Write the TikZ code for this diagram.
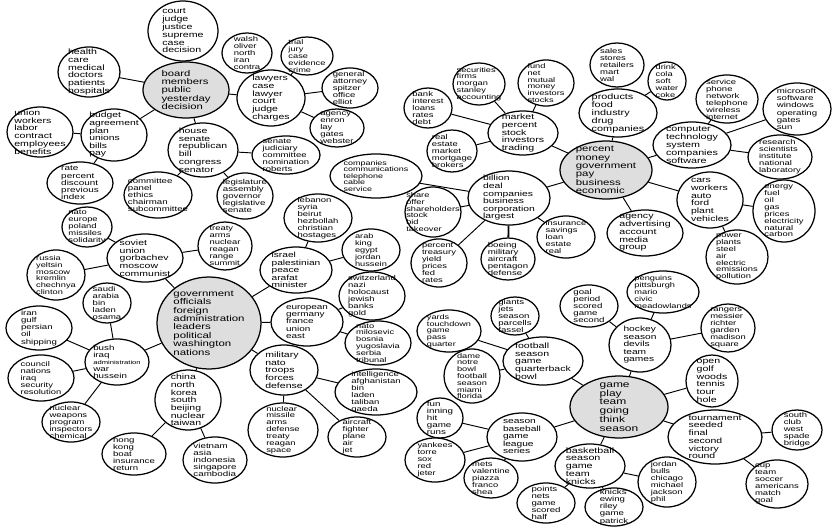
\documentclass[tikz,border=0pt]{standalone}
\usepackage{fontspec}
\newfontfamily\wf[FakeStretch=1.36]{Liberation Sans}
\usetikzlibrary{shapes.geometric}
\tikzset{
  bub/.style={ellipse,draw=black,line width=1.25pt,inner sep=0pt},
  txt/.style={align=left,inner sep=0pt,text=black},
  edge/.style={draw=black,line width=0.95pt},
  thick edge/.style={draw=black,line width=1.8pt}
}
\newcommand\Bub[8][white]{%
  \node[bub,fill=#1,minimum width={2*#5},minimum height={2*#6}] (#2) at (#3,#4) {};
  \node[txt,font=\wf\fontsize{#7}{#7}\selectfont] (#2-t) at (#2) {#8};}
\colorlet{hub}{black!13}
\begin{document}
\begin{tikzpicture}[x=1pt,y=-1pt]
\useasboundingbox[fill=white] (0,0) rectangle (832,527);
% ---- politics / law cluster
\Bub{court}{183}{31}{35}{30}{7.8}{court\\judge\\justice\\supreme\\case\\decision}
\Bub[hub]{board}{186}{90}{43}{28}{8.3}{board\\members\\public\\yesterday\\decision}
\Bub{health}{89}{72}{31}{25}{7.8}{health\\care\\medical\\doctors\\patients\\hospitals}
\Bub{union}{40}{132}{33}{25}{7.8}{union\\workers\\labor\\contract\\employees\\benefits}
\Bub{budget}{114}{135}{33}{26}{7.6}{budget\\agreement\\plan\\unions\\bills\\pay}
\Bub{house}{203}{150}{35}{27}{7.7}{house\\senate\\republican\\bill\\congress\\senator}
\Bub{rate}{80}{183}{33}{21}{7.3}{rate\\percent\\discount\\previous\\index}
\Bub{committee}{158}{195}{34}{23}{7.1}{committee\\panel\\ethics\\chairman\\subcommittee}
\Bub{legislature}{245}{196}{28}{23}{7.1}{legislature\\assembly\\governor\\legislative\\senate}
\Bub{senjud}{286}{155}{34}{19}{7}{senate\\judiciary\\committee\\nomination\\roberts}
\Bub{walsh}{247}{53}{25}{20}{7}{walsh\\oliver\\north\\iran\\contra}
\Bub{trial}{307}{56}{26}{19}{6.8}{trial\\jury\\case\\evidence\\crime}
\Bub{lawyers}{271}{98}{34}{28}{7.7}{lawyers\\case\\lawyer\\court\\judge\\charges}
\Bub{general}{350}{88}{28}{20}{7}{general\\attorney\\spitzer\\office\\elliot}
\Bub{agencyA}{337}{128}{27}{19}{7}{agency\\enron\\lay\\gates\\webster}
% ---- business cluster
\Bub{companies}{376}{176}{46}{22}{6.6}{companies\\communications\\telephone\\cable\\service}
\Bub{bank}{428}{108}{24}{20}{7}{bank\\interest\\loans\\rates\\debt}
\Bub{securities}{479}{84}{26}{21}{6.8}{securities\\firms\\morgan\\stanley\\accounting}
\Bub{fund}{546}{83}{28}{23}{6.8}{fund\\net\\mutual\\money\\investors\\stocks}
\Bub{market}{523}{133}{35}{22}{7.8}{market\\percent\\stock\\investors\\trading}
\Bub{realestate}{452}{151}{25}{21}{7}{real\\estate\\market\\mortgage\\brokers}
\Bub{sales}{617}{65}{27}{22}{7}{sales\\stores\\retailers\\mart\\wal}
\Bub{products}{618}{113}{39}{24}{8}{products\\food\\industry\\drug\\companies}
\Bub{drink}{667}{81}{19}{19}{6.8}{drink\\cola\\soft\\water\\coke}
\Bub{service}{727}{99}{31}{24}{7}{service\\phone\\network\\telephone\\wireless\\internet}
\Bub{microsoft}{797}{109}{34}{26}{7.1}{microsoft\\software\\windows\\operating\\gates\\sun}
\Bub{computer}{692}{145}{39}{23}{7.9}{computer\\technology\\system\\companies\\software}
\Bub{research}{780}{157}{32}{22}{6.9}{research\\scientists\\institute\\national\\laboratory}
\Bub[hub]{money}{606}{170}{46}{29}{8.4}{percent\\money\\government\\pay\\business\\economic}
\Bub{billion}{509}{198}{41}{27}{7.6}{billion\\deal\\companies\\business\\corporation\\largest}
\Bub{share}{433}{212}{28}{25}{6.8}{share\\offer\\shareholders\\stock\\bid\\takeover}
\Bub{insurance}{566}{237}{29}{21}{6.9}{insurance\\savings\\loan\\estate\\real}
\Bub{treasury}{439}{263}{28}{24}{6.9}{percent\\treasury\\yield\\prices\\fed\\rates}
\Bub{boeing}{508}{259}{27}{21}{7.1}{boeing\\military\\aircraft\\pentagon\\defense}
\Bub{agencyB}{645}{233}{38}{23}{7.8}{agency\\advertising\\account\\media\\group}
\Bub{cars}{710}{200}{33}{28}{7.7}{cars\\workers\\auto\\ford\\plant\\vehicles}
\Bub{energy}{784}{211}{31}{31}{6.9}{energy\\fuel\\oil\\gas\\prices\\electricity\\natural\\carbon}
\Bub{power}{737}{257}{31}{27}{6.9}{power\\plants\\steel\\air\\electric\\emissions\\pollution}
% ---- world cluster
\Bub{natoeu}{87}{227}{25}{20}{6.9}{nato\\europe\\poland\\missiles\\solidarity}
\Bub{soviet}{145}{258}{38}{24}{7.7}{soviet\\union\\gorbachev\\moscow\\communist}
\Bub{treaty}{225}{246}{27}{24}{6.9}{treaty\\arms\\nuclear\\reagan\\range\\summit}
\Bub{russia}{56}{275}{29}{25}{6.8}{russia\\yeltsin\\moscow\\kremlin\\chechnya\\clinton}
\Bub{lebanon}{318}{218}{34}{24}{7}{lebanon\\syria\\beirut\\hezbollah\\christian\\hostages}
\Bub{arab}{371}{250}{29}{21}{6.8}{arab\\king\\egypt\\jordan\\hussein}
\Bub{israel}{296}{270}{36}{23}{7.5}{israel\\palestinian\\peace\\arafat\\minister}
\Bub{swiss}{372}{296}{33}{24}{7}{switzerland\\nazi\\holocaust\\jewish\\banks\\gold}
\Bub[hub]{gov}{209}{323}{52}{46}{8.4}{government\\officials\\foreign\\administration\\leaders\\political\\washington\\nations}
\Bub{european}{307}{322}{36}{24}{7.3}{european\\germany\\france\\union\\east}
\Bub{natomil}{378}{343}{33}{22}{6.8}{nato\\milosevic\\bosnia\\yugoslavia\\serbia\\tribunal}
\Bub{saudi}{107}{303}{24}{20}{7}{saudi\\arabia\\bin\\laden\\osama}
\Bub{iran}{39}{328}{33}{22}{7.1}{iran\\gulf\\persian\\oil\\shipping}
\Bub{bush}{117}{362}{32}{23}{7.2}{bush\\iraq\\{\fontsize{5.6}{7.2}\selectfont administration}\\war\\hussein}
\Bub{council}{41}{378}{33}{23}{6.9}{council\\nations\\iraq\\security\\resolution}
\Bub{nucweap}{71}{422}{29}{20}{6.9}{nuclear\\weapons\\program\\inspectors\\chemical}
\Bub{china}{188}{400}{33}{30}{7.7}{china\\north\\korea\\south\\beijing\\nuclear\\taiwan}
\Bub{hongkong}{134}{454}{32}{21}{7.1}{hong\\kong\\boat\\insurance\\return}
\Bub{vietnam}{215}{460}{32}{23}{7.2}{vietnam\\asia\\indonesia\\singapore\\cambodia}
\Bub{military}{284}{370}{34}{25}{7.75}{military\\nato\\troops\\forces\\defense}
\Bub{intel}{376}{392}{41}{23}{7}{intelligence\\afghanistan\\bin\\laden\\taliban\\qaeda}
\Bub{nucmis}{283}{430}{35}{27}{6.9}{nuclear\\missile\\arms\\defense\\treaty\\reagan\\space}
\Bub{aircraft}{357}{437}{29}{20}{6.9}{aircraft\\fighter\\plane\\air\\jet}
% ---- sports cluster
\Bub{giants}{515}{316}{24}{19}{7.1}{giants\\jets\\season\\parcells\\fassel}
\Bub{goal}{589}{306}{29}{21}{7.1}{goal\\period\\scored\\game\\second}
\Bub{penguins}{663}{292}{36}{21}{6.8}{penguins\\pittsburgh\\mario\\civic\\meadowlands}
\Bub{yards}{449}{331}{32}{21}{6.7}{yards\\touchdown\\game\\pass\\quarter}
\Bub{football}{543}{361}{40}{24}{7.75}{football\\season\\game\\quarterback\\bowl}
\Bub{hockey}{640}{345}{31}{27}{7.5}{hockey\\season\\devils\\team\\games}
\Bub{rangers}{728}{328}{27}{24}{6.9}{rangers\\messier\\richter\\garden\\madison\\square}
\Bub{dame}{472}{376}{28}{27}{6.8}{dame\\notre\\bowl\\football\\season\\miami\\florida}
\Bub[hub]{play}{619}{407}{49}{31}{8.8}{game\\play\\team\\going\\think\\season}
\Bub{open}{712}{381}{26}{26}{7.8}{open\\golf\\woods\\tennis\\tour\\hole}
\Bub{fun}{440}{418}{23}{20}{7.2}{fun\\inning\\hit\\game\\runs}
\Bub{baseball}{522}{437}{35}{24}{7.5}{season\\baseball\\game\\league\\series}
\Bub{yankees}{435}{460}{30}{22}{6.9}{yankees\\torre\\sox\\red\\jeter}
\Bub{mets}{491}{478}{27}{20}{6.9}{mets\\valentine\\piazza\\franco\\shea}
\Bub{basketball}{590}{466}{35}{22}{7.9}{basketball\\season\\game\\team\\knicks}
\Bub{points}{546}{503}{29}{20}{7.1}{points\\nets\\game\\scored\\half}
\Bub{knicks}{614}{507}{29}{19}{7.1}{knicks\\ewing\\riley\\game\\patrick}
\Bub{jordan}{667}{482}{29}{25}{6.9}{jordan\\bulls\\chicago\\michael\\jackson\\phil}
\Bub{tournament}{715}{437}{47}{27}{7.7}{tournament\\seeded\\final\\second\\victory\\round}
\Bub{south}{797}{430}{25}{20}{7}{south\\club\\west\\spade\\bridge}
\Bub{cup}{777}{484}{31}{24}{7}{cup\\team\\soccer\\americans\\match\\goal}
% ---- connectors
\foreach \a/\b in {board/court,board/health,board/budget,board/house,board/lawyers,
  budget/union,budget/rate,house/senjud,house/committee,house/legislature,
  lawyers/walsh,lawyers/trial,lawyers/general,lawyers/agencyA,
  market/bank,market/securities,market/fund,market/realestate,market/money,
  money/products,products/sales,products/drink,money/computer,computer/service,
  computer/microsoft,computer/research,money/billion,money/agencyB,money/cars,
  cars/energy,cars/power,billion/companies,billion/share,billion/treasury,
  billion/insurance,
  gov/soviet,soviet/natoeu,soviet/russia,soviet/treaty,gov/israel,israel/lebanon,
  israel/arab,gov/european,european/swiss,european/natomil,gov/bush,bush/saudi,
  bush/iran,bush/council,bush/nucweap,gov/china,china/hongkong,china/vietnam,
  gov/military,military/intel,military/nucmis,military/aircraft,
  play/football,football/giants,football/yards,football/dame,play/hockey,
  hockey/goal,hockey/penguins,hockey/rangers,play/open,play/tournament,
  tournament/south,tournament/cup,play/baseball,baseball/fun,baseball/yankees,
  baseball/mets,play/basketball,basketball/points,basketball/knicks,
  basketball/jordan}
  {\draw[edge] (\a) -- (\b);}
\draw[thick edge] (billion) -- (boeing);
\end{tikzpicture}
\end{document}
